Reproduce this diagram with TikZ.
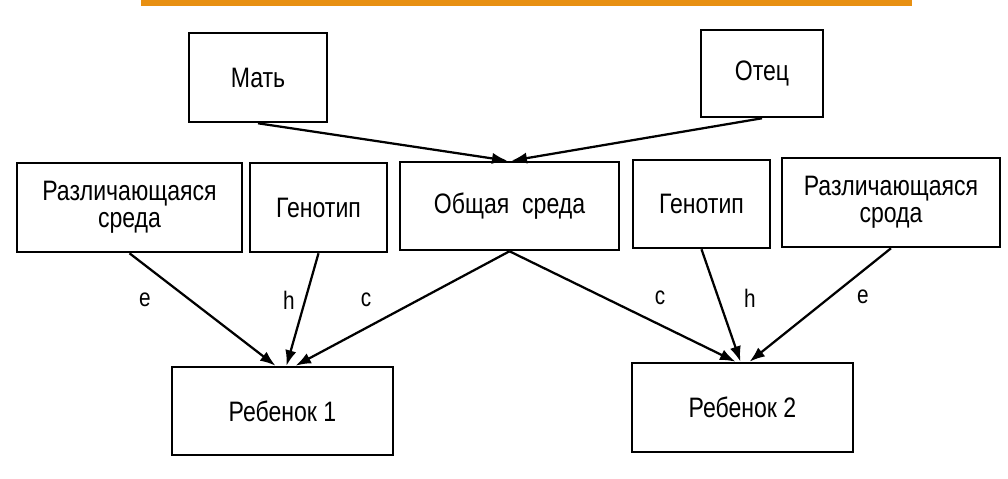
\documentclass[tikz,border=0pt]{standalone}
\usepackage{fontspec}
\setmainfont{Liberation Sans}[FakeStretch=0.82]
\usepackage{tikz}
\usetikzlibrary{shapes,arrows.meta,positioning,calc}
\definecolor{barorange}{RGB}{232,144,18}
\tikzstyle{box} = [rectangle, draw, line width=1.8pt, inner sep=0pt, align=center, font=\fontsize{20}{19}\selectfont]
\tikzstyle{line} = [draw, line width=1.6pt, -{Latex[length=11pt,width=8pt]}]
\tikzstyle{lbl} = [font=\fontsize{18}{18}\selectfont]

\begin{document}
\begin{tikzpicture}[x=0.025cm, y=-0.025cm]
	\useasboundingbox (0,0) rectangle (1008,479);
	\fill [barorange] (141,0) rectangle (912,6);

	\node [box, minimum width=3.45cm, minimum height=2.225cm] (mat) at (258,77.5) {Мать};
	\node [box, minimum width=3.05cm, minimum height=2.175cm] (otec) at (762,73.5) {Отец};
	\node [box, minimum width=5.625cm, minimum height=2.225cm] (razl1) at (129.5,207.5) {Различающаяся\\среда};
	\node [box, minimum width=3.425cm, minimum height=2.225cm] (gen1) at (318.5,207.5) {Генотип};
	\node [box, minimum width=5.475cm, minimum height=2.2cm] (obsh) at (509.5,206) {Общая\ \ среда};
	\node [box, minimum width=3.425cm, minimum height=2.2cm] (gen2) at (701.5,204) {Генотип};
	\node [box, minimum width=5.45cm, minimum height=2.225cm] (razl2) at (891,202.5) {Различающаяся\\срода};
	\node [box, minimum width=5.525cm, minimum height=2.2cm] (reb1) at (282.5,411) {Ребенок 1};
	\node [box, minimum width=5.525cm, minimum height=2.225cm] (reb2) at (742.5,407.5) {Ребенок 2};

	\path [line] (mat.south) -- ($(obsh.north)+(-2,0)$);
	\path [line] (otec.south) -- ($(obsh.north)+(2,0)$);
	\path [line] (razl1.south) -- ($(reb1.north)+(-7,0)$);
	\path [line] (gen1.south) -- ($(reb1.north)+(4,0)$);
	\path [line] (obsh.south) -- ($(reb1.north)+(13,0)$);
	\path [line] (obsh.south) -- ($(reb2.north)+(-7,0)$);
	\path [line] (gen2.south) -- ($(reb2.north)+(-2,0)$);
	\path [line] (razl2.south) -- ($(reb2.north)+(7,0)$);

	\node [lbl] (e1) at (145,300) {e};
	\node [lbl] (h1) at (289,300) {h};
	\node [lbl] (c1) at (366,300) {c};
	\node [lbl] (c2) at (660,298) {c};
	\node [lbl] (h2) at (750,298) {h};
	\node [lbl] (e2) at (863,297) {e};
\end{tikzpicture}
\end{document}
